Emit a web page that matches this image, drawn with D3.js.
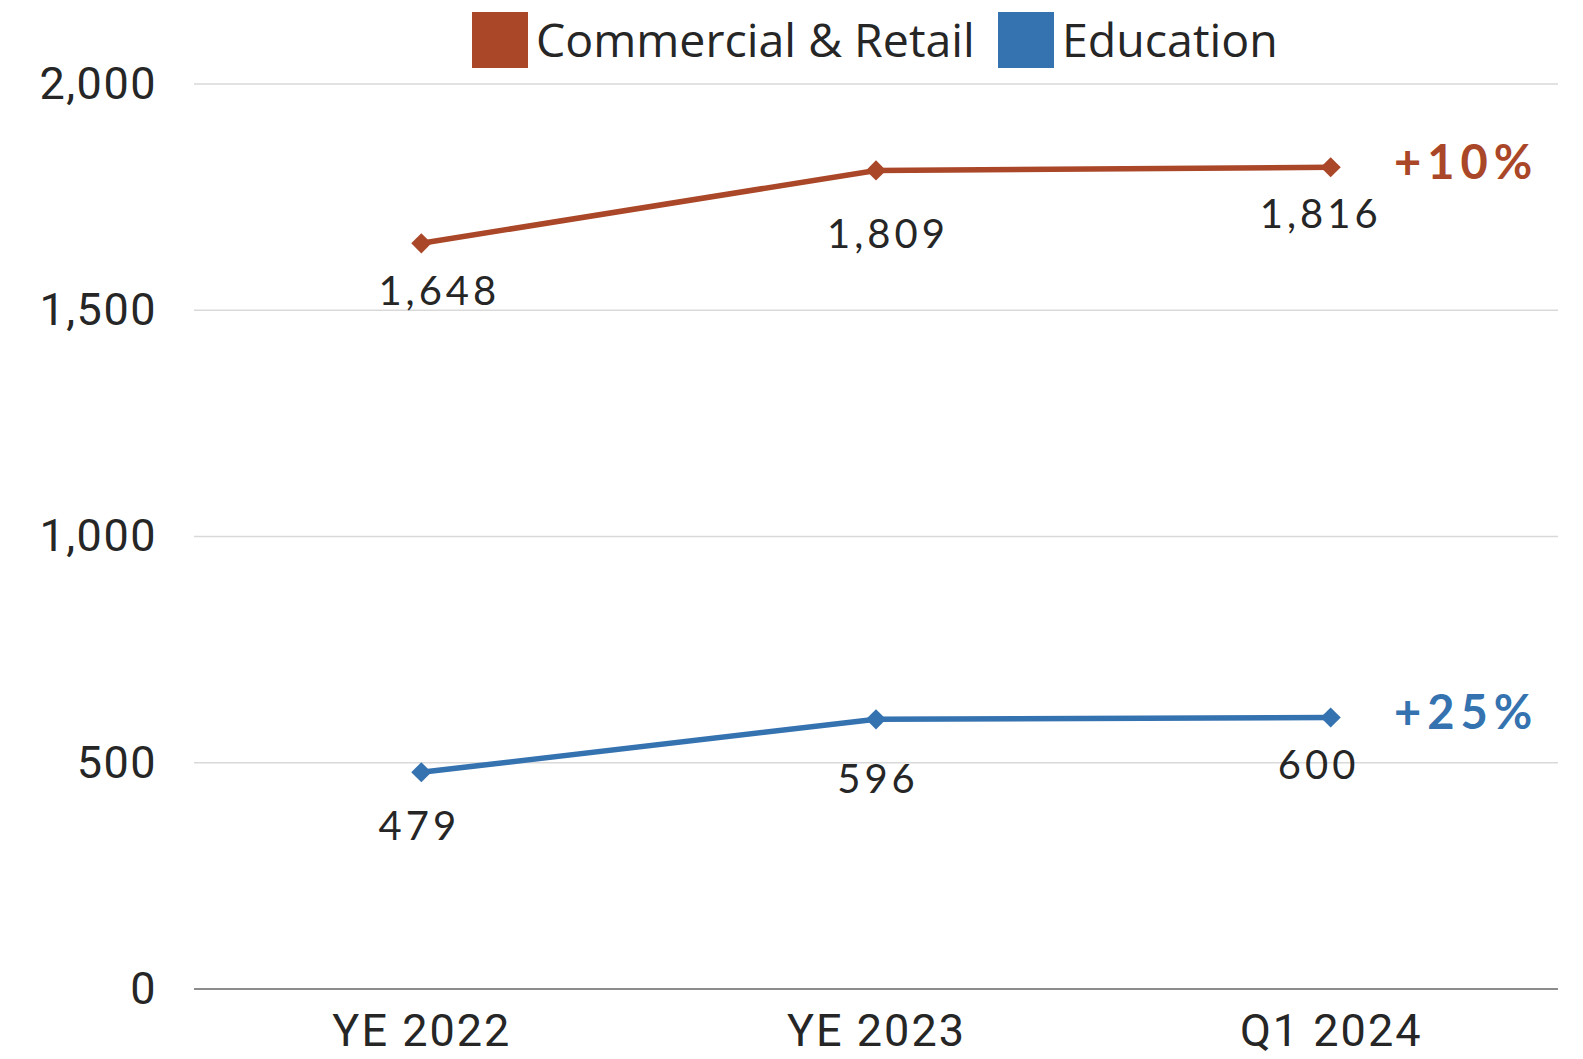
<!DOCTYPE html>
<html>
<head>
<meta charset="utf-8">
<script src="https://cdn.jsdelivr.net/npm/d3@7"></script>
<style>
  html, body { margin: 0; padding: 0; background: #fff; }
  svg { display: block; }
</style>
</head>
<body>
<svg id="chart" width="1583" height="1059"></svg>
<script>
// Periods along the x axis
const periods = ["YE 2022", "YE 2023", "Q1 2024"];
// Series values
const commercialRetail = [1648, 1809, 1816];
const education = [479, 596, 600];
// Series names and growth annotations
const seriesNames = ["Commercial & Retail", "Education"];
const growthLabels = ["+10%", "+25%"];
// Y axis ticks
const yTicks = [0, 500, 1000, 1500, 2000];

const colors = ["#AA4728", "#3572B0"];
// Value-label nudges relative to each point (x, y in px)
const labelNudge = [
  [[18, 48], [12, 64], [-10, 47]],
  [[-2, 54], [2, 60], [-12, 47]]
];

const svg = d3.select("#chart");
const margin = { left: 194, right: 25, top: 84, bottom: 70 };
const W = 1583, H = 1059;

const x = d3.scalePoint().domain(periods).range([margin.left, W - margin.right]).padding(0.5);
const y = d3.scaleLinear().domain([0, 2000]).range([989, 84]);

// Gridlines
svg.append("g").selectAll("line").data(yTicks.filter(d => d > 0)).join("line")
  .attr("x1", margin.left).attr("x2", W - margin.right)
  .attr("y1", d => y(d)).attr("y2", d => y(d))
  .attr("stroke", "#d9d9d9").attr("stroke-width", 1.5);

// Baseline
svg.append("line")
  .attr("x1", margin.left).attr("x2", W - margin.right)
  .attr("y1", y(0)).attr("y2", y(0))
  .attr("stroke", "#8c8c8c").attr("stroke-width", 2);

// Y axis labels
const yAxis = d3.axisLeft(y).tickValues(yTicks).tickFormat(d3.format(",")).tickSize(0).tickPadding(37);
const gy = svg.append("g").attr("transform", `translate(${margin.left},0)`).call(yAxis);
gy.select(".domain").remove();
gy.selectAll("text")
  .attr("font-family", "Roboto, 'Open Sans', sans-serif")
  .attr("font-size", 45).attr("letter-spacing", 1.5).attr("fill", "#262626");

// X axis labels
const xAxis = d3.axisBottom(x).tickSize(0).tickPadding(25);
const gx = svg.append("g").attr("transform", `translate(0,${y(0)})`).call(xAxis);
gx.select(".domain").remove();
gx.selectAll("text")
  .attr("font-family", "Roboto, 'Open Sans', sans-serif")
  .attr("font-size", 45).attr("letter-spacing", 2).attr("fill", "#262626");

// Lines, markers, labels
const allSeries = [commercialRetail, education];
const line = d3.line().x((d, i) => x(periods[i])).y(d => y(d));
const diamond = d3.symbol().type(d3.symbolDiamond2).size(260);

allSeries.forEach((vals, s) => {
  const g = svg.append("g");
  g.append("path").datum(vals)
    .attr("d", line).attr("fill", "none")
    .attr("stroke", colors[s]).attr("stroke-width", 5.5);
  g.selectAll("path.mk").data(vals).join("path").attr("class", "mk")
    .attr("d", diamond)
    .attr("transform", (d, i) => `translate(${x(periods[i])},${y(d)})`)
    .attr("fill", colors[s]);
  g.selectAll("text.val").data(vals).join("text").attr("class", "val")
    .attr("x", (d, i) => x(periods[i]) + labelNudge[s][i][0])
    .attr("y", (d, i) => y(d) + labelNudge[s][i][1])
    .attr("dy", "0.35em")
    .attr("text-anchor", "middle")
    .attr("font-family", "Lato, 'Open Sans', sans-serif")
    .attr("font-size", 40).attr("letter-spacing", 4)
    .attr("fill", "#262626")
    .text(d => d3.format(",")(d));
  // Growth annotation to the right of the last point
  const last = vals[vals.length - 1];
  g.append("text")
    .attr("x", 1394).attr("y", y(last) - 5)
    .attr("dy", "0.35em")
    .attr("font-family", "Lato, 'Open Sans', sans-serif")
    .attr("font-weight", "bold")
    .attr("font-size", 47).attr("letter-spacing", 6)
    .attr("fill", colors[s])
    .text(growthLabels[s]);
});

// Legend
const legend = svg.append("g");
const legendPos = [472, 998];
seriesNames.forEach((name, i) => {
  legend.append("rect")
    .attr("x", legendPos[i]).attr("y", 12)
    .attr("width", 56).attr("height", 56)
    .attr("fill", colors[i]);
  legend.append("text")
    .attr("x", legendPos[i] + 64).attr("y", 41).attr("dy", "0.35em")
    .attr("font-family", "'Open Sans', sans-serif")
    .attr("font-size", 46.5).attr("fill", "#262626")
    .text(name);
});
</script>
</body>
</html>
